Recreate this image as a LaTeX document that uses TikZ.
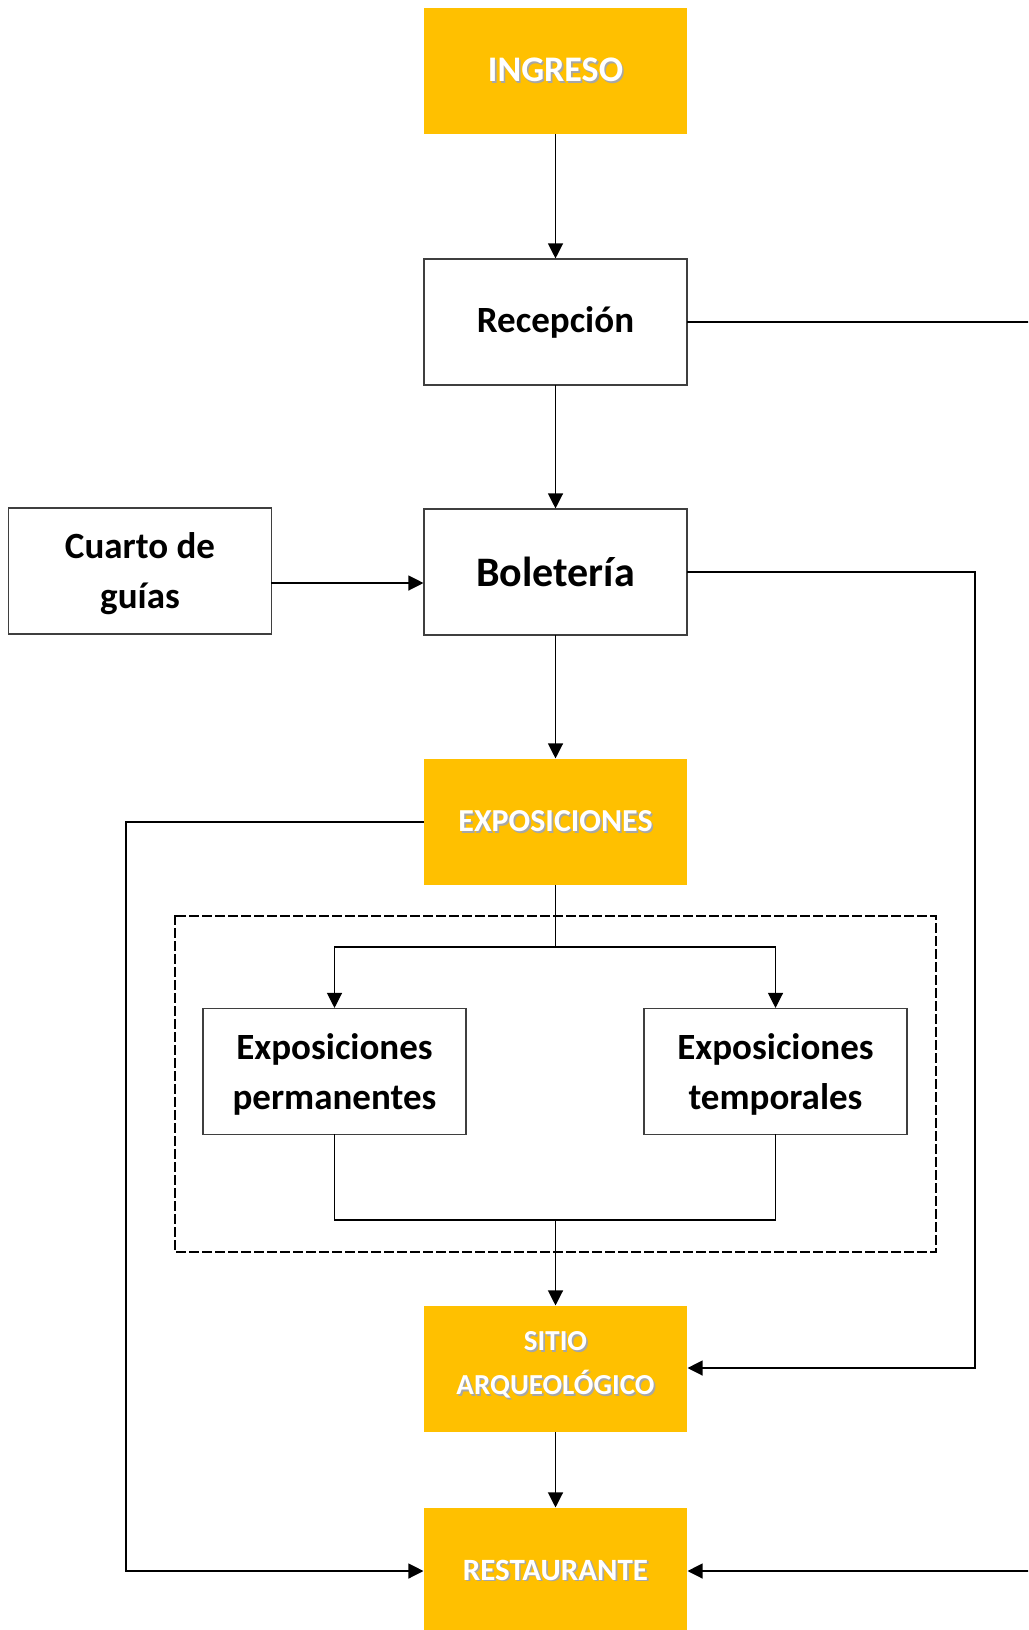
\documentclass[tikz,border=0pt]{standalone}
\usepackage{fontspec}
\setmainfont{Carlito}
\usepackage{xcolor}
\usetikzlibrary{arrows.meta,positioning}
\definecolor{muGold}{HTML}{FFC000}
\definecolor{muInk}{HTML}{000000}
\definecolor{muEdge}{HTML}{3F3F3F}
\newcommand\shadowed[1]{\leavevmode\rlap{\kern1.6pt\raisebox{-1.8pt}{\color{black!35}#1}}#1}
\newcommand\shiftline[2]{\raisebox{#1}[\height][\depth]{#2}}
\tikzset{
  mu diagram/.style={font=\bfseries, text=muInk,
    line cap=rect, line join=miter},
  mu box/.style={draw=muEdge, fill=white, line width=1.1pt,
    minimum width=263pt, minimum height=126pt, align=center, inner sep=0pt},
  mu key box/.style={mu box, draw=none, fill=muGold, text=white},
  mu arrow/.style={-{Triangle[length=15pt,width=15pt]}, draw=muInk, line width=1.2pt},
  mu line/.style={draw=muInk, line width=1.2pt},
  mu group/.style={draw=muInk, line width=1.4pt, dash pattern=on 8pt off 5pt}
}

\begin{document}
\begin{tikzpicture}[mu diagram, x=1pt, y=-1pt]
\useasboundingbox (0,0) rectangle (1028,1630);
\clip (0,0) rectangle (1028,1630);
% main column
\node[mu key box,font=\fontsize{36}{40}\selectfont\bfseries] (ingreso) at (555.5,71) {\shadowed{INGRESO}};
\node[mu box,font=\fontsize{37}{44}\selectfont\bfseries] (recepcion) at (555.5,322) {Recepción};
\node[mu box,font=\fontsize{42}{48}\selectfont\bfseries] (boleteria) at (555.5,572) {Boletería};
\node[mu box,font=\fontsize{37}{50}\selectfont\bfseries] (cuarto) at (140,571) {\shiftline{-3pt}{Cuarto de}\\\shiftline{-3pt}{guías}};
\node[mu key box,font=\fontsize{32}{38}\selectfont\bfseries] (expo) at (555.5,822) {\shadowed{EXPOSICIONES}};
\node[mu box,font=\fontsize{37}{50}\selectfont\bfseries] (perm) at (334.5,1071.5) {\shiftline{-3pt}{Exposiciones}\\\shiftline{-3pt}{permanentes}};
\node[mu box,font=\fontsize{37}{50}\selectfont\bfseries] (temp) at (775.5,1071.5) {\shiftline{-3pt}{Exposiciones}\\\shiftline{-3pt}{temporales}};
\node[mu key box,font=\fontsize{29}{44}\selectfont\bfseries] (sitio) at (555.5,1369) {\shiftline{3pt}{\shadowed{SITIO}}\\\shiftline{3pt}{\shadowed{ARQUEOLÓGICO}}};
\node[mu key box,font=\fontsize{31}{38}\selectfont\bfseries] (rest) at (555.5,1571) {\shadowed{RESTAURANTE}};
% exhibition group
\draw[mu group] (175,916) rectangle (936,1252);
% free ends at the right edge
\coordinate (recOut) at (1028,322);
\coordinate (restIn) at (1028,1571);
\coordinate (split) at (555.5,947);
\coordinate (merge) at (555.5,1220);
\coordinate (guiaOut) at ([yshift=-12pt]cuarto.east);
% connectors
\draw[mu arrow] (ingreso) -- (recepcion);
\draw[mu arrow] (recepcion) -- (boleteria);
\draw[mu line] (recepcion.east) -- (recOut);
\draw[mu arrow] (guiaOut) -- (guiaOut -| boleteria.west);
\draw[mu arrow] (boleteria) -- (expo);
\draw[mu arrow] (boleteria.east) -- (975,572) -- (975,1368) -- (sitio.east |- 0,1368);
\draw[mu arrow] (expo.west) -- (126,822) -- (126,1571) -- (rest.west);
\draw[mu line] (expo.south) -- (split);
\draw[mu arrow] (split) -| (perm.north);
\draw[mu arrow] (split) -| (temp.north);
\draw[mu line] (perm.south) |- (merge) -| (temp.south);
\draw[mu arrow] (merge) -- (sitio.north);
\draw[mu arrow] (sitio) -- (rest);
\draw[mu arrow] (restIn) -- (rest.east);
\end{tikzpicture}
\end{document}
